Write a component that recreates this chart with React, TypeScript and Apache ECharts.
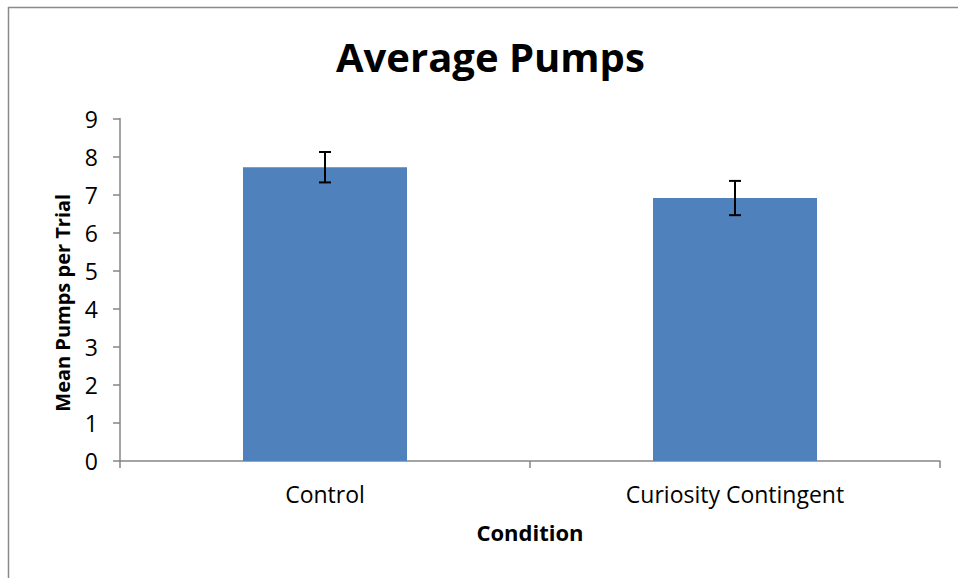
import React, { useEffect, useRef } from "react";
import * as echarts from "echarts";

const categories = ["Control", "Curiosity Contingent"];
const means = [7.72, 6.91];
const errors = [0.4, 0.45];
const yTicks = [0, 1, 2, 3, 4, 5, 6, 7, 8, 9];

const FONT = "'Open Sans', 'Noto Sans', sans-serif";

export default function App() {
  const ref = useRef<HTMLDivElement>(null);
  useEffect(() => {
    document.body.style.margin = "0";
    const chart = echarts.init(ref.current!, null, { renderer: "svg" });
    const errData = categories.map((c, i) => [i, means[i] - errors[i], means[i] + errors[i]]);
    chart.setOption({
      animation: false,
      backgroundColor: "#ffffff",
      title: {
        text: "Average Pumps",
        left: 331,
        top: 31,
        textStyle: { fontFamily: FONT, fontSize: 40, fontWeight: "bold", color: "#000" },
      },
      graphic: [
        { type: "line", shape: { x1: 8, y1: 7.5, x2: 958, y2: 7.5 }, style: { stroke: "#8a8a8a", lineWidth: 1.5 } },
        { type: "line", shape: { x1: 8.5, y1: 7, x2: 8.5, y2: 578 }, style: { stroke: "#8a8a8a", lineWidth: 1.5 } },
      ],
      grid: { left: 120, right: 18, top: 118.5, bottom: 117, containLabel: false },
      xAxis: {
        type: "category",
        data: categories,
        name: "Condition",
        nameLocation: "middle",
        nameGap: 60,
        nameTextStyle: { fontFamily: FONT, fontSize: 22, fontWeight: "bold", color: "#000" },
        axisLine: { lineStyle: { color: "#868686", width: 1.5 } },
        axisTick: { show: true, length: 7, lineStyle: { color: "#868686", width: 1.5 } },
        axisLabel: { fontFamily: FONT, fontSize: 23, color: "#000", margin: 21 },
      },
      yAxis: {
        type: "value",
        min: 0,
        max: 9,
        interval: 1,
        name: "Mean Pumps per Trial",
        nameLocation: "middle",
        nameGap: 48,
        nameTextStyle: { fontFamily: FONT, fontSize: 20, fontWeight: "bold", color: "#000", padding: [0, 26, 0, 0] },
        axisLine: { show: true, lineStyle: { color: "#868686", width: 1.5 } },
        axisTick: { show: true, length: 7, lineStyle: { color: "#868686", width: 1.5 } },
        axisLabel: {
          fontFamily: FONT,
          fontSize: 23,
          color: "#000",
          margin: 22,
          formatter: (v: number) => (yTicks.includes(v) ? String(v) : ""),
        },
        splitLine: { show: false },
      },
      series: [
        {
          type: "bar",
          data: means,
          barWidth: "40%",
          itemStyle: { color: "#4F81BD" },
        },
        {
          type: "custom",
          data: errData,
          z: 10,
          renderItem: (params: any, api: any) => {
            const x = api.value(0);
            const lo = api.coord([x, api.value(1)]);
            const hi = api.coord([x, api.value(2)]);
            const hw = 6;
            const style = { stroke: "#000", lineWidth: 2 };
            return {
              type: "group",
              children: [
                { type: "line", shape: { x1: lo[0], y1: hi[1], x2: lo[0], y2: lo[1] }, style },
                { type: "line", shape: { x1: lo[0] - hw, y1: hi[1], x2: lo[0] + hw, y2: hi[1] }, style },
                { type: "line", shape: { x1: lo[0] - hw, y1: lo[1], x2: lo[0] + hw, y2: lo[1] }, style },
              ],
            };
          },
        },
      ],
    });
    return () => chart.dispose();
  }, []);
  return <div ref={ref} style={{ width: 958, height: 578 }} />;
}
